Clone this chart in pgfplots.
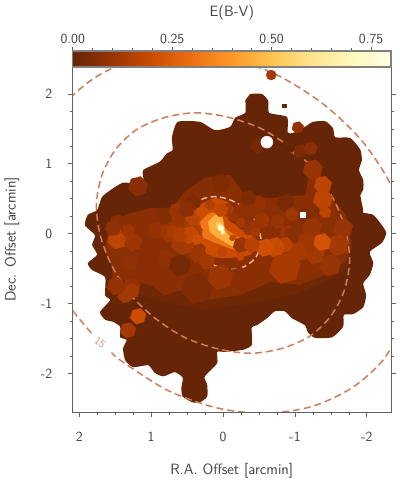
\documentclass[border=0pt]{standalone}
\usepackage{fontspec}
\usepackage{pgfplots}
\usepackage{pgfplotstable}
\pgfplotsset{compat=1.18}
\pgfdeclareplotmark{hexa}{%
 \pgfpathmoveto{\pgfqpointpolar{15}{\pgfplotmarksize}}%
 \pgfpathlineto{\pgfqpointpolar{75}{\pgfplotmarksize}}%
 \pgfpathlineto{\pgfqpointpolar{135}{\pgfplotmarksize}}%
 \pgfpathlineto{\pgfqpointpolar{195}{\pgfplotmarksize}}%
 \pgfpathlineto{\pgfqpointpolar{255}{\pgfplotmarksize}}%
 \pgfpathlineto{\pgfqpointpolar{315}{\pgfplotmarksize}}%
 \pgfpathclose\pgfusepathqfillstroke}
\definecolor{cbase}{RGB}{102,37,6}
\definecolor{cont}{RGB}{205,125,90}
\definecolor{contin}{RGB}{225,180,155}
\definecolor{frm}{gray}{0.38}
\definecolor{txt}{gray}{0.25}
\definecolor{la}{RGB}{110,40,6}
\definecolor{lb}{RGB}{138,46,4}
\definecolor{lc}{RGB}{204,76,2}
\definecolor{ld}{RGB}{238,118,22}
\definecolor{le}{RGB}{254,175,60}
\pgfplotstableread{
x y v r
0.36 -0.78 .05 16
-0.21 -0.66 .07 13
0.81 -0.62 .07 14
1.11 -0.55 .07 11
0.04 -0.62 .11 13
1.36 -0.88 .12 8
1.27 -0.76 .09 9
1.49 -0.75 .09 9
1.27 -0.82 .12 8
0.43 0.42 .05 9
0.04 0.72 .05 10
0.25 0.66 .06 9
-0.49 1.26 .03 8
-1.08 1.18 .04 7
-1.22 1.22 .07 7
-1.25 0.92 .10 10
-1.04 1.52 .09 6
1.18 0.68 .07 10
0.33 -0.25 .10 8
1.09 0.15 .07 10
0.83 0.23 .06 10
1.46 0.15 .07 9
0.93 0.05 .09 9
0.64 0.33 .10 8
0.78 -0.35 .08 9
1.11 -0.20 .07 9
0.60 -0.45 .03 11
1.29 -0.41 .08 8
-0.86 -0.49 .13 16
-1.49 -0.45 .10 11
-1.28 -0.30 .12 10
-1.39 0.35 .05 8
-1.14 0.26 .05 8
-0.87 0.44 .04 9
-0.49 0.44 .09 8
-0.35 0.51 .05 8
-0.40 0.31 .08 8
-0.68 0.34 .07 8
-0.54 0.19 .11 8
-0.76 0.17 .10 7
-0.96 0.28 .11 7
-0.89 0.02 .11 7
-0.96 -0.02 .07 8
-1.24 0.09 .10 10
-1.67 0.08 .10 10
-1.60 -0.16 .12 11
-1.17 -0.13 .11 11
-1.04 -0.26 .13 10
-0.86 -0.16 .16 8
-0.72 -0.19 .19 10
-0.58 -0.20 .21 9
-1.38 -0.12 .22 9
-1.39 0.70 .17 9
-1.39 0.49 .17 10
-1.42 0.31 .17 6
1.47 -0.08 .17 10
1.25 -0.12 .11 9
1.32 0.04 .11 7
1.53 0.08 .08 8
0.54 -0.16 .12 10
0.60 -0.15 .12 9
0.36 -0.30 .11 8
0.22 -0.40 .12 8
0.53 0.10 .11 10
0.42 0.02 .14 10
0.74 0.02 .11 10
0.67 0.01 .13 9
0.46 -0.02 .18 9
0.60 -0.02 .15 8
0.63 0.20 .10 7
0.42 0.23 .16 8
0.50 0.35 .07 8
1.18 -1.18 .20 8
1.32 -1.38 .12 8
-0.25 -0.16 .10 8
-0.40 -0.16 .16 8
-0.43 0.10 .10 7
-0.28 0.15 .08 7
-0.10 0.33 .07 7
-0.24 0.33 .08 7
-0.06 0.34 .12 7
0.03 0.34 .18 7
}\cells
\begin{document}
\begin{tikzpicture}[x=1bp,y=1bp]
\useasboundingbox (0,0) rectangle (399,481);
\begin{axis}[at={(72.7bp,69bp)},anchor=south west,
 scale only axis,width=318.3bp,height=345bp,
 x dir=reverse,xmin=-2.336,xmax=2.09,ymin=-2.55,ymax=2.385,
 xtick={-2,-1,0,1,2},xticklabels={-2,-1,0,1,2},
 ytick={-2,-1,0,1,2},yticklabels={-2,-1,0,1,2},
 minor tick num=3,tick align=outside,
 xtick pos=lower,ytick pos=both,yticklabel pos=left,
 major tick length=5bp,minor tick length=3bp,
 tick style={frm,line width=.7bp},
 axis line style={frm,line width=.9bp},
 tick label style={font=\fontsize{14}{16}\selectfont\sffamily,text=txt},
 xticklabel style={yshift=-12bp},
 yticklabel style={xshift=-12bp},
 label style={font=\fontsize{15}{17}\selectfont\sffamily,text=txt},
 xlabel={R.A. Offset [arcmin]},
 xlabel style={at={(0.5,0)},anchor=base,yshift=-62bp},
 ylabel={Dec. Offset [arcmin]},
 ylabel style={at={(0,0.5)},anchor=base,yshift=57bp},
 colormap={ylorbrr}{rgb255=(102,37,6) rgb255=(153,52,4) rgb255=(204,76,2) rgb255=(236,112,20) rgb255=(254,153,41) rgb255=(254,196,79) rgb255=(254,227,145) rgb255=(255,247,188) rgb255=(255,255,229)},
 point meta min=0,point meta max=0.8,
 colorbar horizontal,
 colorbar style={at={(0,1)},anchor=south west,scale only axis,width=318.3bp,height=16bp,
  xtick={0,.25,.5,.75},xticklabels={0.00,0.25,0.50,0.75},minor x tick num=4,
  xticklabel pos=upper,xtick pos=upper,xtick align=outside,
  major tick length=4bp,minor tick length=3bp,
  xticklabel style={yshift=0bp},
  axis line style={black!50,line width=1.2bp},
  title={E(B-V)},title style={font=\fontsize{15}{17}\selectfont\sffamily,text=txt,at={(0.5,1)},anchor=base,yshift=29bp},
  ytick=\empty},
 clip=true]
% silhouette
\addplot[fill=cbase,draw=none,smooth,tension=0.35] coordinates {
(-0.376,2.0)(-0.54,2.0)(-0.63,1.90)(-0.64,1.73)(-0.89,1.67)(-0.90,1.45)(-0.97,1.44)(-1.14,1.53)(-1.25,1.60)(-1.42,1.61)(-1.53,1.51)(-1.56,1.38)(-1.77,1.37)(-1.91,1.20)(-1.93,1.05)(-1.89,0.91)(-1.95,0.77)(-1.95,0.63)(-1.91,0.55)(-1.95,0.34)(-1.95,0.30)(-2.09,0.27)(-2.21,0.12)(-2.27,0.01)(-2.21,-0.13)(-2.04,-0.26)(-2.09,-0.42)(-2.04,-0.59)(-1.95,-0.71)(-1.99,-0.88)(-1.95,-1.05)(-1.81,-1.15)(-1.68,-1.16)(-1.67,-1.33)(-1.52,-1.48)(-1.28,-1.49)(-1.18,-1.41)(-1.14,-1.31)(-0.96,-1.21)(-0.86,-1.11)(-0.72,-1.11)(-0.61,-1.21)(-0.47,-1.31)(-0.40,-1.34)(-0.40,-1.59)(-0.28,-1.66)(-0.03,-1.69)(0.08,-1.69)(0.08,-1.85)(0.21,-1.99)(0.26,-2.06)(0.22,-2.16)(0.22,-2.33)(0.32,-2.41)(0.43,-2.41)(0.56,-2.33)(0.58,-2.21)(0.56,-2.06)(0.67,-1.98)(0.83,-2.04)(0.95,-1.99)(1.04,-1.88)(1.25,-1.91)(1.36,-1.81)(1.39,-1.64)(1.34,-1.52)(1.43,-1.48)(1.43,-1.33)(1.53,-1.26)(1.64,-1.23)(1.71,-1.12)(1.57,-0.95)(1.64,-0.88)(1.64,-0.62)(1.82,-0.52)(1.88,-0.42)(1.75,-0.30)(1.82,-0.16)(1.78,-0.02)(1.92,0.12)(1.88,0.27)(1.75,0.34)(1.68,0.53)(1.50,0.67)(1.39,0.73)(1.29,0.73)(1.25,0.80)(1.11,0.77)(1.11,0.91)(0.88,1.03)(0.78,1.15)(0.70,1.20)(0.71,1.38)(0.63,1.60)(0.32,1.60)(0.11,1.48)(-0.10,1.53)(-0.17,1.66)(-0.31,1.73)(-0.31,1.91)
} --cycle;
% broad regions of slightly raised reddening
\addplot[fill=la,draw=none,smooth,tension=0.3] coordinates {
(1.36,-.80)(1.01,-.92)(.32,-1.08)(-.38,-1.00)(-1.07,-.84)(-1.70,-.52)(-1.77,-.09)(-1.07,.48)(.32,.48)(1.29,.05)} --cycle;
\addplot[fill=lb,draw=none] coordinates {
(1.60,.02)(1.36,.27)(1.01,.37)(.71,.37)(.53,.60)(.25,.80)(-.10,.84)(-.31,.55)(-.65,.51)(-1.14,.55)(-1.21,.91)(-1.70,.27)(-1.79,-.16)(-1.70,-.40)(-1.42,-.59)(-1.07,-.73)(-.65,-.69)(-.24,-.88)(.25,-.95)(.60,-.81)(.81,-.88)(1.01,-.73)(1.36,-.66)(1.54,-.81)(1.54,-.49)(1.65,-.23)} --cycle;
% bins
\addplot[only marks,mark=hexa,
 scatter,scatter src=explicit,
 scatter/use mapped color={draw=mapped color,fill=mapped color},
 visualization depends on={\thisrow{r} \as \rr},
 scatter/@pre marker code/.append style={/tikz/mark size=\rr bp},
 ] table[x=x,y=y,meta=v] {\cells};
% bright core
\addplot[fill=lc,draw=none,smooth,tension=0.3] coordinates {
(.46,.12)(.39,.37)(.11,.51)(-.13,.41)(-.07,.20)(-.31,.05)(-.49,-.12)(-.38,-.30)(-.03,-.35)(.32,-.30)(.49,-.09)} --cycle;
\addplot[fill=ld,draw=none,smooth,tension=0.3] coordinates {
(.32,.17)(.18,.30)(.01,.27)(-.03,.08)(-.24,-.06)(-.43,-.13)(-.40,-.23)(-.17,-.23)(.11,-.13)(.28,-.05)} --cycle;
\addplot[fill=le,draw=none,smooth,tension=0.3] coordinates {
(.21,.17)(.11,.27)(.01,.22)(-.04,.02)(-.18,-.09)(-.32,-.13)(-.32,-.20)(-.13,-.18)(.07,-.06)(.18,.02)} --cycle;
\addplot[only marks,mark=hexa,
 scatter,scatter src=explicit,
 scatter/use mapped color={draw=mapped color,fill=mapped color},
 visualization depends on={\thisrow{r} \as \rr},
 scatter/@pre marker code/.append style={/tikz/mark size=\rr bp},
 ] table[x=x,y=y,meta=v] {
x y v r
0.32 0.31 .20 5
0.18 0.41 .15 5
0.46 0.02 .18 5
0.36 -0.08 .20 5
0.18 -0.23 .20 5
0.01 -0.26 .17 5
-0.24 0.16 .12 5
-0.35 0.05 .10 5
-0.24 -0.33 .18 4
-0.45 0.02 .12 5
-0.14 0.24 .10 5
-0.13 -0.06 .17 3
-0.16 -0.04 .20 2
0.06 0.12 .55 3
0.03 0.08 .75 3
0.00 0.02 .70 2
};
% outlying bins
\addplot[only marks,mark=*,mark size=5bp,color={rgb,255:red,165;green,56;blue,4}] coordinates {(-0.67,2.27)};
\addplot[only marks,mark=square*,mark size=1.6bp,color=cbase] coordinates {(-0.85,1.83)};
% holes
\addplot[only marks,mark=*,mark size=6bp,color=white] coordinates {(-0.61,1.31)};
\addplot[only marks,mark=square*,mark size=2.2bp,color=white] coordinates {(-1.11,0.27)};
% contours
\addplot[contin,line width=1.5bp,dash pattern=on 6bp off 3.5bp,smooth] coordinates {
(.42,-.21)(.47,-.13)(.51,0)(.53,.14)(.50,.26)(.45,.37)(.36,.45)(.25,.51)(.12,.53)(-.02,.51)(-.15,.46)(-.28,.38)(-.39,.27)(-.47,.15)(-.51,.02)(-.53,-.12)(-.50,-.24)(-.45,-.35)(-.36,-.43)(-.25,-.49)(-.12,-.51)(.02,-.49)(.15,-.44)};
\addplot[cont,line width=1.5bp,dash pattern=on 7bp off 4bp,smooth] coordinates {
(-1.13,1.06)(-1.29,.89)(-1.55,.47)(-1.71,.03)(-1.76,-.41)(-1.68,-.83)(-1.49,-1.19)(-1.20,-1.47)(-.82,-1.64)(-.39,-1.71)(.06,-1.65)(.52,-1.49)(.93,-1.22)(1.29,-.87)(1.55,-.45)(1.71,-.01)(1.76,.43)(1.68,.85)(1.49,1.21)(1.20,1.49)(.82,1.66)(.39,1.73)(-.06,1.67)(-.52,1.51)(-.88,1.28)};
\addplot[cont,line width=1.5bp,dash pattern=on 7bp off 4bp,smooth] coordinates {
(2.52,1.27)(2.24,1.81)(1.80,2.22)(1.24,2.49)(.59,2.585)(-.09,2.51)(-.77,2.26)(-1.40,1.85)(-1.93,1.33)(-2.33,.71)(-2.57,.04)};
\addplot[cont,line width=1.5bp,dash pattern=on 7bp off 4bp,smooth] coordinates {
(-2.52,-1.25)(-2.24,-1.79)(-1.80,-2.20)(-1.24,-2.47)(-.59,-2.57)(.09,-2.49)(.77,-2.24)(1.40,-1.83)(1.55,-1.70)};
\addplot[cont,line width=1.5bp,dash pattern=on 7bp off 4bp,smooth] coordinates {
(1.83,-1.42)(2.08,-1.11)(2.33,-.69)};
% labels
\node[contin,font=\fontsize{11}{12}\selectfont\sffamily,rotate=-25] at (axis cs:0.28,-0.35) {3};
\node[cont!85!white,font=\fontsize{11}{12}\selectfont\sffamily,rotate=-35] at (axis cs:-1.03,1.16) {10};
\node[cont!85!white,font=\fontsize{11}{12}\selectfont\sffamily,rotate=-35] at (axis cs:1.71,-1.56) {15};
\end{axis}
\end{tikzpicture}
\end{document}
